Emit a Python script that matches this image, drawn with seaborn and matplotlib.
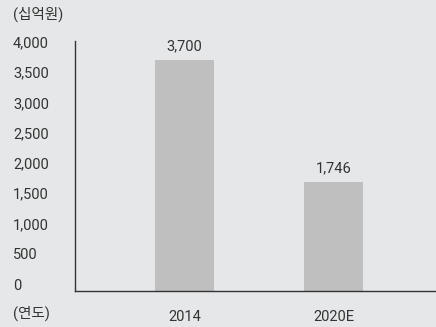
import matplotlib
matplotlib.use("Agg")
import matplotlib.pyplot as plt
import matplotlib.transforms as mtransforms
import seaborn as sns
import pandas as pd

years = ["2014", "2020E"]
values = [3700, 1746]
value_labels = ["3,700", "1,746"]
yticks = [0, 500, 1000, 1500, 2000, 2500, 3000, 3500, 4000]
ytick_labels = ["0", "500", "1,000", "1,500", "2,000", "2,500", "3,000", "3,500", "4,000"]

sns.set_theme(style="white")
plt.rcParams["font.family"] = ["Roboto", "Noto Sans CJK KR", "DejaVu Sans"]

bg = "#e6e7e8"
txt = "#333333"

fig = plt.figure(figsize=(4.36, 3.27), dpi=100, facecolor=bg)
ax = fig.add_axes([75 / 436, 36 / 327, 361 / 436, 250 / 327])
ax.set_facecolor(bg)

df = pd.DataFrame({"year": years, "value": values})
sns.barplot(data=df, x="year", y="value", color="#bfbfbf", width=0.396,
            saturation=1, linewidth=0, edgecolor="none", ax=ax)

ax.set_xlim(-0.735, 1.688)
ax.set_ylim(0, 4000)
ax.set_xlabel("")
ax.set_ylabel("")

for i, (v, lab) in enumerate(zip(values, value_labels)):
    ax.annotate(lab, (i, v), xytext=(0, 5), textcoords="offset points",
                ha="center", va="bottom", fontsize=10.5, color=txt)

# y labels sit in a slightly compressed column: lift the lower ones a little
ax.set_yticks(yticks)
ax.set_yticklabels(ytick_labels)
ax.tick_params(axis="y", length=0, pad=62 * 72 / 100, labelsize=10.5, labelcolor=txt)
for tv, t in zip(yticks, ax.get_yticklabels()):
    t.set_horizontalalignment("left")
    lift = (7 - 8 * tv / 4000) / 100
    t.set_transform(t.get_transform() + mtransforms.ScaledTranslation(0, lift, fig.dpi_scale_trans))
ax.tick_params(axis="x", length=0, pad=14, labelsize=10.5, labelcolor=txt)

for s in ["top", "right"]:
    ax.spines[s].set_visible(False)
for s in ["left", "bottom"]:
    ax.spines[s].set_color("#333333")
    ax.spines[s].set_linewidth(1.0)

fig.text(13 / 436, 1 - 14 / 327, "(십억원)", ha="left", va="center", fontsize=10.5, color=txt)
fig.text(13 / 436, 1 - 313 / 327, "(연도)", ha="left", va="center", fontsize=10.5, color=txt)

fig.savefig("out.png", dpi=100, facecolor=bg)
